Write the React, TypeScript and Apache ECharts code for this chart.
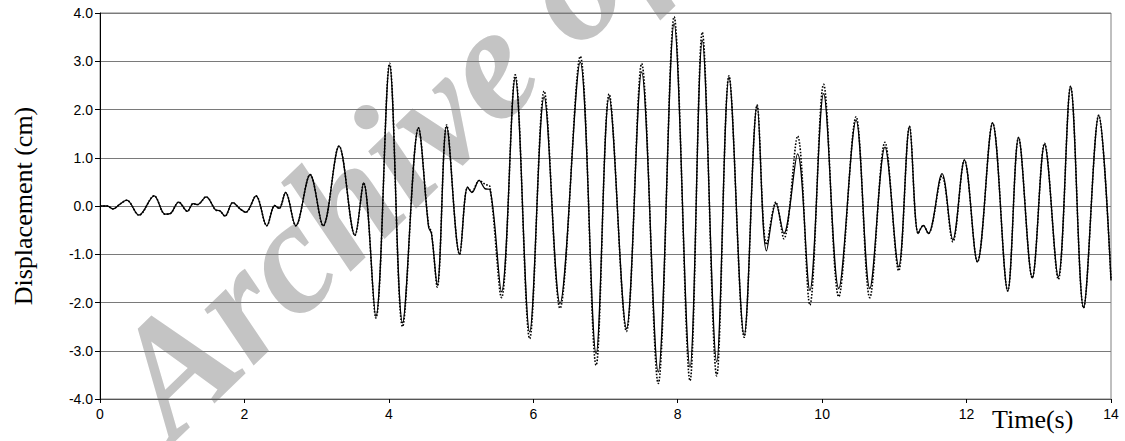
import React, { useEffect, useRef } from "react";
import * as echarts from "echarts";

// Time (s)
const timeS = [
  0.0, 0.1, 0.18, 0.27, 0.37, 0.54, 0.75, 0.9, 0.97, 1.09, 1.21, 1.29, 1.35, 1.47, 1.6, 1.66, 1.73, 1.84, 1.94, 2.02,
  2.16, 2.31, 2.42, 2.48, 2.57, 2.71, 2.91, 3.09, 3.31, 3.53, 3.65, 3.82, 4.01, 4.19, 4.41, 4.55, 4.59, 4.67, 4.8, 4.98,
  5.09, 5.15, 5.25, 5.33, 5.4, 5.56, 5.75, 5.95, 6.15, 6.37, 6.65, 6.87, 7.05, 7.29, 7.5, 7.73, 7.95, 8.17, 8.34, 8.54,
  8.71, 8.92, 9.1, 9.23, 9.36, 9.47, 9.66, 9.83, 10.02, 10.23, 10.47, 10.66, 10.87, 11.06, 11.21, 11.33, 11.4, 11.47, 11.66, 11.81,
  11.97, 12.15, 12.36, 12.57, 12.72, 12.91, 13.08, 13.27, 13.44, 13.62, 13.83, 14.0,
];

// Displacement (cm), solid line
const solidDisp = [
  0.0, 0.0, -0.06, 0.03, 0.12, -0.19, 0.21, -0.17, -0.16, 0.08, -0.11, 0.05, 0.03, 0.19, -0.08, -0.1, -0.21, 0.07, -0.06, -0.13,
  0.21, -0.41, 0.01, -0.05, 0.28, -0.41, 0.65, -0.41, 1.24, -0.61, 0.48, -2.29, 2.92, -2.42, 1.62, -0.44, -0.57, -1.64, 1.65, -1.0,
  0.39, 0.28, 0.53, 0.36, 0.34, -1.78, 2.66, -2.61, 2.26, -2.02, 2.98, -3.06, 2.26, -2.54, 2.78, -3.44, 3.78, -3.34, 3.43, -3.23,
  2.67, -2.68, 2.09, -0.93, 0.06, -0.57, 1.08, -1.75, 2.33, -1.71, 1.78, -1.71, 1.22, -1.26, 1.65, -0.57, -0.4, -0.57, 0.67, -0.7,
  0.95, -1.16, 1.72, -1.76, 1.42, -1.49, 1.28, -1.47, 2.48, -2.11, 1.88, -1.54,
];

// Displacement (cm), dotted line
const dottedDisp = [
  0.0, 0.0, -0.06, 0.03, 0.12, -0.19, 0.21, -0.17, -0.16, 0.08, -0.11, 0.05, 0.03, 0.19, -0.08, -0.1, -0.21, 0.07, -0.06, -0.13,
  0.21, -0.41, 0.01, -0.05, 0.28, -0.41, 0.65, -0.41, 1.24, -0.61, 0.48, -2.32, 2.96, -2.5, 1.62, -0.4, -0.55, -1.68, 1.68, -1.0,
  0.39, 0.3, 0.53, 0.45, 0.4, -1.9, 2.72, -2.75, 2.38, -2.12, 3.1, -3.3, 2.32, -2.6, 2.95, -3.68, 3.92, -3.62, 3.6, -3.52,
  2.7, -2.72, 2.09, -0.8, 0.08, -0.68, 1.45, -2.05, 2.52, -1.88, 1.85, -1.9, 1.32, -1.34, 1.65, -0.57, -0.4, -0.57, 0.62, -0.74,
  0.95, -1.16, 1.72, -1.76, 1.42, -1.49, 1.3, -1.52, 2.48, -2.11, 1.88, -1.54,
];

const xTicks = [0, 2, 4, 6, 8, 10, 12, 14];
const yTicks = [-4, -3, -2, -1, 0, 1, 2, 3, 4];

export default function App() {
  const ref = useRef<HTMLDivElement>(null);

  useEffect(() => {
    if (!ref.current) return;
    const chart = echarts.init(ref.current, null, { renderer: "svg" });
    const solid = timeS.map((t, i) => [t, solidDisp[i]]);
    const dotted = timeS.map((t, i) => [t, dottedDisp[i]]);
    chart.setOption({
      animation: false,
      backgroundColor: "#ffffff",
      grid: {
        left: 100,
        right: 14,
        top: 13,
        bottom: 42,
        show: true,
        borderColor: "#808080",
        borderWidth: 1,
      },
      graphic: [
        {
          type: "text",
          left: 992,
          top: 406,
          style: {
            text: "Time(s)",
            font: "26px 'Liberation Serif', 'Times New Roman', serif",
            fill: "#000",
          },
        },
        {
          type: "text",
          x: 192,
          y: 462,
          rotation: (44 * Math.PI) / 180,
          z: -10,
          silent: true,
          style: {
            text: "Archive of SID",
            font: "italic bold 162px 'Liberation Serif', 'Times New Roman', serif",
            fill: "#c4c4c4",
            textVerticalAlign: "bottom",
          },
        },
      ],
      xAxis: {
        type: "value",
        min: xTicks[0],
        max: xTicks[xTicks.length - 1],
        interval: 2,
        axisLine: { show: true, onZero: false, lineStyle: { color: "#555", width: 1 } },
        axisTick: { show: true, length: 4, lineStyle: { color: "#000" } },
        axisLabel: {
          margin: 8,
          fontFamily: "'Liberation Sans', Arial, sans-serif",
          fontSize: 14,
          color: "#000",
        },
        splitLine: { show: false },
      },
      yAxis: {
        type: "value",
        min: yTicks[0],
        max: yTicks[yTicks.length - 1],
        interval: 1,
        name: "Displacement (cm)",
        nameLocation: "middle",
        nameGap: 64,
        nameTextStyle: {
          fontFamily: "'Liberation Serif', 'Times New Roman', serif",
          fontSize: 26,
          color: "#000",
        },
        axisLine: { show: true, lineStyle: { color: "#000", width: 1 } },
        axisTick: { show: true, length: 5, lineStyle: { color: "#000" } },
        axisLabel: {
          margin: 7,
          fontFamily: "'Liberation Sans', Arial, sans-serif",
          fontSize: 14,
          color: "#000",
          formatter: (v: number) => v.toFixed(1),
        },
        splitLine: { show: true, lineStyle: { color: "#7a7a7a", width: 1 } },
      },
      series: [
        {
          name: "Solid",
          type: "line",
          data: solid,
          showSymbol: false,
          smooth: 0.35,
          lineStyle: { color: "#000", width: 1.3, type: "solid" },
          z: 3,
        },
        {
          name: "Dotted",
          type: "line",
          data: dotted,
          showSymbol: false,
          smooth: 0.35,
          lineStyle: { color: "#000", width: 1.6, type: "dotted" },
          z: 4,
        },
      ],
    });
    return () => chart.dispose();
  }, []);

  return (
    <div
      ref={ref}
      style={{ position: "absolute", left: 0, top: 0, width: 1125, height: 441, background: "#fff" }}
    />
  );
}
